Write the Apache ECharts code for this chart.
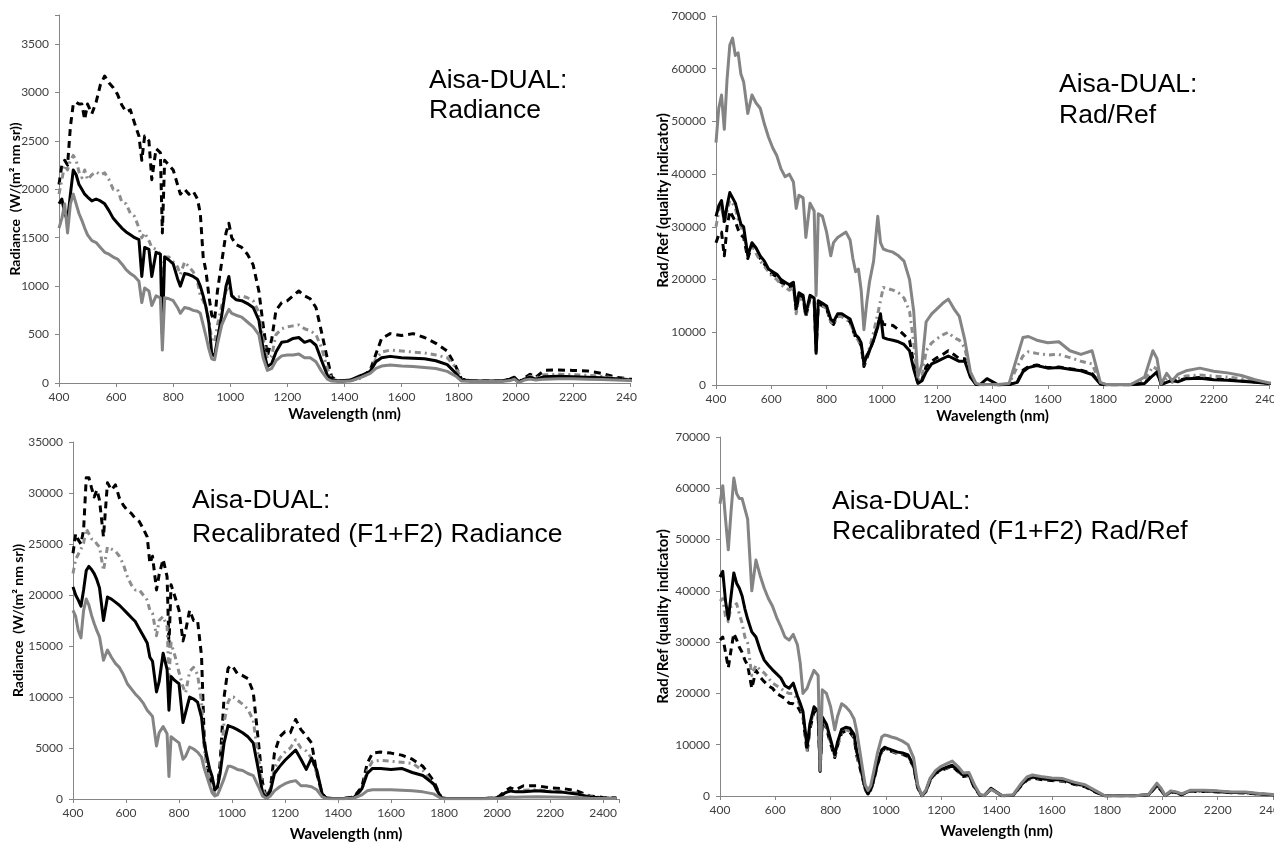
<!DOCTYPE html>
<html>
<head>
<meta charset="utf-8">
<title>Aisa-DUAL spectra</title>
<script src="https://cdn.jsdelivr.net/npm/echarts@6/dist/echarts.min.js"></script>
<style>
  html, body { margin: 0; padding: 0; background: #fff; }
  .wrap { position: relative; width: 1274px; height: 843px; overflow: hidden; }
  .panel { position: absolute; overflow: hidden; }
  #p1 { left: 0; top: 0; width: 637px; height: 425px; }
  #p2 { left: 637px; top: 0; width: 637px; height: 425px; }
  #p3 { left: 0; top: 425px; width: 640px; height: 418px; }
  #p4 { left: 640px; top: 425px; width: 634px; height: 418px; }
</style>
</head>
<body>
<div class="wrap">
  <div class="panel" id="p1"></div>
  <div class="panel" id="p2"></div>
  <div class="panel" id="p3"></div>
  <div class="panel" id="p4"></div>
</div>
<script>
// shared wavelength grid (nm)
const wavelength = [
  400, 410, 420, 430, 440, 450, 460, 470, 480, 490,
  500, 515, 530, 545, 560, 575, 590, 605, 620, 635,
  650, 665, 680, 690, 700, 715, 725, 740, 755, 762,
  770, 785, 800, 815, 825, 840, 855, 870, 885, 895,
  905, 915, 925, 935, 945, 955, 970, 985, 995, 1005,
  1020, 1040, 1060, 1080, 1100, 1115, 1130, 1145, 1160, 1180,
  1200, 1220, 1240, 1260, 1280, 1300, 1320, 1340, 1355, 1380,
  1420, 1460, 1490, 1510, 1530, 1560, 1600, 1640, 1680, 1720,
  1760, 1790, 1810, 1850, 1900, 1950, 1980, 1995, 2010, 2030,
  2050, 2070, 2100, 2150, 2200, 2250, 2300, 2350, 2400, 2450
];

// panel 1: radiance
const radDashed = [
  2050, 2250, 2300, 2250, 2650, 2880, 2900, 2880, 2880, 2720,
  2880, 2780, 2900, 3080, 3170, 3100, 3050, 2980, 2870, 2800,
  2820, 2680, 2550, 2300, 2550, 2500, 2100, 2420, 2380, 1550,
  2300, 2250, 2200, 2050, 1950, 2000, 1950, 1980, 1900, 1750,
  1300, 1150, 900, 700, 650, 950, 1250, 1550, 1650, 1500,
  1430, 1400, 1330, 1220, 950, 600, 280, 450, 750, 830,
  850, 900, 950, 900, 870, 780, 520, 250, 60, 20,
  25, 60, 130, 300, 460, 510, 490, 510, 470, 410,
  330, 170, 40, 20, 20, 20, 40, 60, 10, 50,
  90, 60, 130, 135, 130, 125, 100, 60, 40, 30
];
const radDashDot = [
  1950, 2100, 2250, 2200, 2300, 2350, 2300, 2180, 2120, 2200,
  2100, 2150, 2180, 2150, 2170, 2100, 2000, 2000, 1870, 1850,
  1750, 1720, 1600, 1500, 1550, 1470, 1400, 1380, 1330, 1000,
  1300, 1300, 1250, 1200, 1120, 1250, 1200, 1150, 1050, 900,
  850, 780, 650, 450, 420, 600, 800, 950, 1000, 900,
  880, 900, 880, 850, 730, 450, 250, 280, 500, 560,
  580, 590, 600, 560, 540, 500, 360, 150, 40, 20,
  25, 50, 120, 250, 320, 340, 330, 320, 310, 290,
  260, 160, 40, 20, 20, 20, 35, 50, 10, 40,
  70, 50, 85, 90, 85, 80, 70, 50, 35, 30
];
const radBlack = [
  1850, 1900, 1750, 1680, 1950, 2200, 2150, 2050, 2000, 1950,
  1920, 1880, 1900, 1880, 1850, 1780, 1700, 1650, 1600, 1560,
  1530, 1500, 1480, 1100, 1400, 1380, 1100, 1350, 1330, 500,
  1300, 1270, 1230, 1080, 1000, 1130, 1120, 1100, 1070, 1000,
  900, 780, 620, 300, 280, 450, 700, 1000, 1100, 900,
  860, 850, 820, 780, 650, 350, 170, 200, 320, 420,
  430, 460, 470, 420, 440, 390, 230, 80, 30, 20,
  30, 80, 120, 220, 260, 275, 260, 255, 250, 230,
  190, 100, 30, 20, 20, 20, 40, 60, 10, 40,
  60, 40, 65, 70, 65, 60, 55, 45, 30, 25
];
const radGray = [
  1600, 1700, 1850, 1550, 1850, 1950, 1850, 1750, 1680, 1600,
  1530, 1470, 1450, 1400, 1350, 1330, 1300, 1280, 1230, 1170,
  1130, 1100, 1050, 830, 980, 950, 800, 900, 880, 340,
  880, 870, 850, 780, 720, 780, 770, 750, 740, 720,
  600, 480, 350, 250, 240, 400, 600, 700, 760, 720,
  700, 680, 630, 580, 500, 260, 130, 150, 230, 280,
  290, 290, 300, 260, 260, 220, 120, 40, 20, 15,
  20, 60, 100, 150, 175, 185, 175, 170, 160, 150,
  120, 70, 20, 15, 15, 15, 25, 40, 5, 30,
  40, 30, 40, 45, 45, 40, 35, 30, 25, 20
];

// panel 2: rad/ref
const qiDashed = [
  27000, 28500, 29000, 24500, 30000, 33000, 32000, 31000, 29500, 28500,
  28000, 24000, 26500, 25500, 24000, 23000, 21500, 21000, 20500, 19500,
  19000, 18500, 19000, 14000, 17000, 16500, 13000, 16500, 16000, 6500,
  15500, 15000, 14500, 12000, 11500, 13000, 13000, 12500, 12000, 10500,
  9000, 8500, 7500, 3500, 5000, 6500, 8500, 11500, 13000, 11500,
  11400, 11300, 10500, 9500, 8500, 4000, 300, 1000, 3500, 4500,
  5200, 5800, 6500, 5800, 5000, 5000, 1800, 150, 50, 100,
  50, 100, 600, 2800, 3500, 3800, 3300, 3400, 3100, 2800,
  2200, 250, 50, 50, 50, 350, 2000, 2300, 100, 600,
  1000, 700, 1300, 1400, 1100, 1000, 800, 550, 300, 100
];
const qiDashDot = [
  30000, 33000, 34500, 30500, 33000, 35000, 34500, 33500, 31500, 30000,
  29000, 25000, 26500, 25000, 23500, 22500, 21500, 20500, 20000, 19000,
  18500, 18000, 18500, 13500, 16500, 16000, 13000, 16500, 16000, 7000,
  15500, 15000, 14500, 12000, 11500, 13000, 13000, 12500, 12000, 10500,
  9000, 8500, 7500, 4000, 5500, 7000, 10000, 13500, 16000, 18500,
  18300, 18000, 17500, 16500, 14000, 8000, 500, 1500, 6500, 8000,
  8800, 9500, 10000, 9000, 8500, 7000, 2000, 200, 100, 100,
  100, 200, 3500, 5500, 6300, 6000, 5700, 5800, 5200, 4500,
  4000, 300, 100, 100, 100, 800, 3500, 3000, 100, 1300,
  500, 1200, 1700, 1900, 1700, 1500, 1200, 700, 300, 100
];
const qiBlack = [
  32000, 34000, 35000, 31000, 34000, 36500, 35500, 34500, 32500, 30500,
  30000, 24500, 27000, 26000, 24500, 23500, 22000, 21500, 21000, 20000,
  19500, 19000, 19500, 14500, 17500, 17000, 13500, 17000, 16500, 6000,
  16000, 15500, 15000, 12500, 12000, 13500, 13500, 13000, 12500, 11000,
  9500, 9000, 8000, 4000, 5500, 6500, 8500, 11000, 13500, 9000,
  8700, 8500, 8200, 7700, 6500, 3000, 300, 800, 2500, 4000,
  4500, 5000, 5500, 5000, 4500, 4500, 1500, 100, 50, 1200,
  50, 100, 500, 2500, 3300, 3700, 3200, 3300, 3000, 2700,
  2000, 200, 50, 50, 50, 300, 1800, 2500, 100, 500,
  900, 600, 1200, 1300, 1000, 900, 700, 500, 300, 100
];
const qiGray = [
  46000, 52500, 55000, 48500, 58000, 64500, 65800, 62500, 63000, 59000,
  57500, 51500, 55000, 53500, 52500, 49500, 47000, 45000, 43500, 41000,
  39500, 40000, 38500, 33500, 36000, 35500, 28000, 34500, 33000, 17000,
  32500, 32000, 29000, 24500, 27000, 28000, 28500, 29000, 27500, 24000,
  21500, 22000, 18000, 10500, 15500, 19500, 23500, 32000, 27000, 25800,
  25500, 25200, 24500, 23500, 20000, 14000, 1500, 4000, 12000, 13500,
  14500, 15500, 16300, 14500, 13000, 8500, 2500, 300, 100, 100,
  100, 300, 5500, 9000, 9200, 8500, 8000, 8200, 6500, 5800,
  6500, 500, 100, 100, 100, 1500, 6500, 5000, 200, 2200,
  800, 2000, 2700, 3200, 2600, 2300, 1800, 1000, 400, 200
];

// panel 3: recalibrated radiance
const recRadDashed = [
  24100, 26000, 25400, 25000, 26400, 31500, 31500, 30500, 29600, 30300,
  29300, 25700, 31000, 30300, 30800, 29500, 28800, 28300, 28000, 27500,
  27200, 26500, 25700, 23100, 23800, 20500, 22000, 23500, 21800, 15000,
  21000, 19800, 18500, 15500, 16500, 18500, 17500, 17500, 14000, 6000,
  3500, 2200, 1200, 900, 1200, 3500, 10000, 12800, 13100, 12900,
  12300, 12100, 11800, 10500, 5500, 1600, 100, 1000, 4500, 6100,
  6600, 6500, 7800, 6800, 6200, 5500, 2500, 500, 100, 50,
  50, 200, 1200, 3500, 4500, 4600, 4500, 4300, 3900, 3200,
  1800, 100, 50, 50, 50, 50, 100, 150, 300, 800,
  1100, 900, 1300, 1300, 1100, 1000, 800, 300, 150, 100
];
const recRadDashDot = [
  22100, 23500, 24000, 24500, 25100, 26500, 26000, 25500, 25400, 25000,
  24700, 22400, 24700, 24500, 24300, 23800, 23000, 21800, 21000, 20500,
  20500, 20000, 19500, 18500, 18200, 16000, 17500, 17900, 16900, 12000,
  15300, 14000, 12400, 11000, 10400, 12500, 12900, 12200, 9500, 5000,
  3000, 1800, 1200, 600, 800, 3000, 7500, 9500, 10000, 10000,
  9700, 9300, 8800, 7700, 4000, 1000, 100, 900, 3000, 4000,
  4600, 5000, 5800, 5000, 4700, 4000, 2500, 300, 100, 50,
  50, 150, 900, 2800, 3700, 3800, 3700, 3600, 3500, 2800,
  1400, 100, 50, 50, 50, 50, 80, 100, 200, 600,
  800, 700, 850, 900, 800, 750, 600, 250, 120, 80
];
const recRadBlack = [
  20800, 20000, 19500, 18900, 20500, 22400, 22800, 22500, 22100, 21500,
  20700, 17500, 19800, 19600, 19300, 19000, 18600, 18200, 17800, 17400,
  16700, 16000, 15300, 13900, 13500, 10500, 11500, 14300, 12700, 8700,
  12000, 11600, 11300, 7500, 8500, 10000, 9800, 9500, 8000, 5500,
  4200, 3000, 2200, 900, 1200, 2500, 5500, 7200, 7100, 7000,
  6800, 6500, 6100, 5500, 2800, 600, 50, 800, 2500, 3200,
  3800, 4300, 4800, 3900, 2900, 4000, 2800, 500, 100, 50,
  50, 150, 1000, 2500, 3000, 3000, 2900, 3000, 2600, 2300,
  1500, 100, 50, 50, 50, 50, 80, 100, 200, 600,
  800, 700, 700, 800, 700, 650, 500, 200, 100, 80
];
const recRadGray = [
  18500, 17900, 16500, 15800, 18500, 19600, 19000, 18000, 17200, 16500,
  15900, 13600, 14600, 13900, 13300, 12900, 12200, 11300, 10800, 10300,
  9900, 9400, 8700, 8400, 8100, 5200, 6500, 7100, 6400, 2200,
  6100, 5800, 5500, 3900, 4200, 5100, 4900, 4600, 4100, 3000,
  2200, 1400, 600, 300, 400, 1000, 2000, 3200, 3200, 3100,
  2900, 2800, 2500, 2300, 1200, 300, 50, 300, 800, 1200,
  1500, 1700, 1800, 1300, 1300, 1200, 900, 200, 50, 30,
  30, 100, 400, 800, 900, 900, 900, 850, 800, 700,
  500, 50, 30, 30, 30, 30, 40, 50, 80, 150,
  200, 180, 200, 220, 200, 180, 150, 80, 50, 40
];

// panel 4: recalibrated rad/ref
const recQiDashed = [
  30400, 31000, 28000, 25000, 28500, 31700, 30500, 29000, 28000, 26500,
  25500, 21000, 24500, 23200, 22300, 21500, 21000, 20000, 19500, 19000,
  18100, 18000, 17500, 16500, 15500, 8500, 13000, 16500, 15800, 4800,
  14800, 13200, 10200, 7500, 9800, 12300, 12700, 12400, 11300, 7800,
  5800, 3600, 1300, 400, 1000, 2800, 6200, 8700, 9200, 9000,
  8700, 8300, 8100, 7700, 5700, 1600, 50, 900, 3000, 4400,
  5000, 5400, 5800, 4800, 3800, 4000, 1600, 150, 50, 1300,
  50, 150, 2000, 3100, 3500, 3200, 3000, 2900, 2300, 1800,
  700, 50, 30, 30, 30, 200, 2000, 1100, 50, 800,
  600, 250, 900, 900, 800, 650, 600, 350, 200, 100
];
const recQiDashDot = [
  38000, 38500, 35000, 34000, 37000, 37000, 37500, 35500, 33700, 31000,
  29800, 23500, 25500, 24600, 24000, 23000, 22000, 21500, 21000, 20300,
  20000, 20000, 18800, 17500, 16000, 9000, 13500, 16800, 16000, 5000,
  15000, 13500, 10500, 7800, 10000, 12500, 12900, 12600, 11500, 8000,
  6000, 3800, 1400, 500, 1100, 2900, 6300, 8800, 9300, 9100,
  8800, 8400, 8200, 7800, 5800, 1700, 50, 1000, 3100, 4500,
  5100, 5500, 5900, 4900, 3900, 4100, 1700, 200, 50, 1400,
  50, 150, 2100, 3200, 3600, 3300, 3100, 3000, 2400, 1900,
  800, 50, 30, 30, 30, 250, 2100, 1200, 50, 850,
  650, 300, 950, 950, 850, 700, 650, 400, 250, 150
];
const recQiBlack = [
  42700, 43800, 38000, 34500, 39000, 43500, 41500, 40500, 39000, 36500,
  34500, 32000, 31000, 28500, 26500, 25500, 24600, 23800, 23000, 21500,
  21000, 22000, 19500, 18100, 16500, 9500, 14000, 17400, 16500, 5000,
  15400, 14000, 11000, 8000, 10500, 13000, 13400, 13200, 12000, 8500,
  6500, 4000, 1500, 500, 1200, 3000, 6500, 9000, 9500, 9300,
  9000, 8600, 8400, 8000, 6000, 1800, 50, 1000, 3200, 4600,
  5200, 5600, 6000, 5000, 4000, 4200, 1800, 200, 50, 1500,
  50, 150, 2200, 3300, 3700, 3400, 3200, 3100, 2500, 2000,
  800, 50, 30, 30, 30, 250, 2200, 1300, 50, 900,
  700, 300, 1000, 1000, 900, 700, 700, 400, 250, 150
];
const recQiGray = [
  57000, 60500, 54000, 48000, 55500, 62000, 59000, 58000, 58000, 56000,
  54000, 40000, 46000, 43000, 40500, 38500, 37000, 34800, 33000, 31000,
  30400, 31500, 29500, 26000, 20000, 21000, 22500, 24500, 23500, 5000,
  20700, 20000, 17400, 12900, 15500, 18000, 17400, 16500, 15000, 12500,
  9000, 5500, 2200, 1100, 2000, 4500, 8500, 11500, 11900, 11800,
  11500, 11200, 10700, 10000, 7500, 2200, 100, 1200, 3500, 5000,
  5800, 6300, 6800, 5800, 4500, 4600, 2200, 300, 100, 1300,
  100, 200, 2500, 3700, 4100, 3800, 3500, 3400, 2700, 2200,
  1000, 100, 50, 50, 50, 300, 2500, 1500, 100, 1000,
  800, 400, 1100, 1100, 1000, 800, 800, 500, 300, 200
];

const xTitle = 'Wavelength (nm)';
const radianceTitle = 'Radiance  (W/(m² nm sr))';
const qiTitle = 'Rad/Ref (quality indicator)';

const tickFont = 'Lato, "Open Sans", sans-serif';
const axisGray = '#868686';

const dashedBlack = { color: '#000', width: 3, type: [7, 5], join: 'round' };
const dashDotGray = { color: '#8c8c8c', width: 3, type: [6, 4, 2, 4], join: 'round' };
const solidBlack = { color: '#000', width: 3, join: 'round' };
const solidGray = { color: '#848484', width: 3, join: 'round' };

function line(values, style) {
  return {
    type: 'line',
    data: wavelength.map((w, i) => [w, values[i]]),
    showSymbol: false,
    symbol: 'none',
    silent: true,
    lineStyle: style,
    itemStyle: { color: style.color },
  };
}

function label(lines, x, y, gap) {
  return lines.map((t, i) => ({
    type: 'text',
    left: x,
    top: y + i * gap - 14,
    style: {
      text: t,
      font: '26.5px "Liberation Sans", Arial, sans-serif',
      fill: '#000',
    },
  }));
}

function panel(el, cfg) {
  const chart = echarts.init(document.getElementById(el), null, { renderer: 'canvas' });
  chart.setOption({
    animation: false,
    backgroundColor: '#fff',
    grid: {
      left: cfg.grid[0], top: cfg.grid[1], width: cfg.grid[2], height: cfg.grid[3],
      containLabel: false, outerBoundsMode: 'none',
    },
    xAxis: {
      type: 'value',
      min: 400,
      max: cfg.xMax,
      interval: 200,
      name: xTitle,
      nameLocation: 'middle',
      nameGap: cfg.xGap,
      nameMoveOverlap: false,
      nameTextStyle: { fontFamily: tickFont, fontWeight: 'bold', fontSize: 15, color: '#000' },
      axisLine: { lineStyle: { color: axisGray } },
      axisTick: { show: true, length: 4, lineStyle: { color: axisGray } },
      axisLabel: {
        color: '#404040', fontSize: 12, fontFamily: tickFont, margin: 8,
        formatter: (v) => (v % 200 === 0 ? String(v) : ''),
      },
      splitLine: { show: false },
    },
    yAxis: {
      type: 'value',
      min: 0,
      max: cfg.yMax,
      interval: cfg.yStep,
      name: cfg.yTitle,
      nameLocation: 'middle',
      nameGap: cfg.yGap,
      nameMoveOverlap: false,
      nameTextStyle: { fontFamily: tickFont, fontWeight: 'bold', fontSize: cfg.yFont, color: '#000' },
      axisLine: { show: true, lineStyle: { color: axisGray } },
      axisTick: { show: true, length: 4, lineStyle: { color: axisGray } },
      axisLabel: {
        color: '#404040', fontSize: 12, fontFamily: tickFont, margin: 10,
        formatter: (v) => (v % cfg.yStep === 0 ? String(v) : ''),
      },
      splitLine: { show: false },
    },
    graphic: label(cfg.text, cfg.textPos[0], cfg.textPos[1], cfg.textPos[2]),
    series: [
      line(cfg.data[0], dashedBlack),
      line(cfg.data[1], dashDotGray),
      line(cfg.data[2], solidBlack),
      line(cfg.data[3], solidGray),
    ],
  });
}

panel('p1', {
  grid: [59, 15, 571, 368], xMax: 2400, yMax: 3800, yStep: 500,
  yTitle: radianceTitle, yFont: 14, xGap: 24, yGap: 37,
  text: ['Aisa-DUAL:', 'Radiance'], textPos: [429, 81, 30],
  data: [radDashed, radDashDot, radBlack, radGray],
});
panel('p2', {
  grid: [79, 16, 553, 369], xMax: 2400, yMax: 70000, yStep: 10000,
  yTitle: qiTitle, yFont: 15, xGap: 24, yGap: 45,
  text: ['Aisa-DUAL:', 'Rad/Ref'], textPos: [422, 85, 31],
  data: [qiDashed, qiDashDot, qiBlack, qiGray],
});
panel('p3', {
  grid: [73, 17, 546, 357], xMax: 2460, yMax: 35000, yStep: 5000,
  yTitle: radianceTitle, yFont: 14, xGap: 28, yGap: 48,
  text: ['Aisa-DUAL:', 'Recalibrated (F1+F2) Radiance'], textPos: [192, 76, 34],
  data: [recRadDashed, recRadDashDot, recRadBlack, recRadGray],
});
panel('p4', {
  grid: [80, 12, 553, 359], xMax: 2400, yMax: 70000, yStep: 10000,
  yTitle: qiTitle, yFont: 15, xGap: 28, yGap: 49,
  text: ['Aisa-DUAL:', 'Recalibrated (F1+F2) Rad/Ref'], textPos: [192, 77, 30],
  data: [recQiDashed, recQiDashDot, recQiBlack, recQiGray],
});
</script>
</body>
</html>
